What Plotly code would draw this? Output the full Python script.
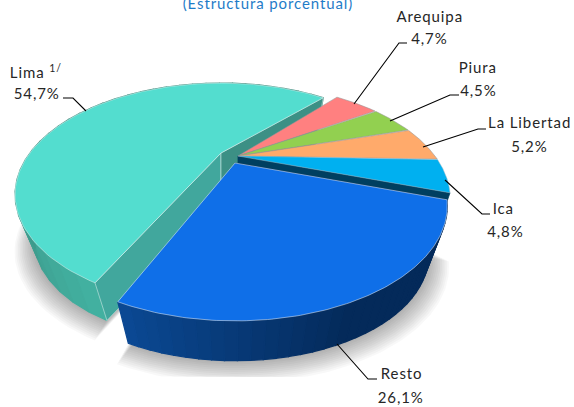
import math
import plotly.graph_objects as go

# ---- data ----
categories = ["Lima", "Arequipa", "Piura", "La Libertad", "Ica", "Resto"]
values = [54.7, 4.7, 4.5, 5.2, 4.8, 26.1]
label_names = ["Lima <sup>1/</sup>", "Arequipa", "Piura", "La Libertad", "Ica", "Resto"]
title_text = "(Estructura porcentual)"

# ---- style / layout ----
W, H = 574, 407
top_colors = ["#53DDCF", "#FF8080", "#92D050", "#FFAA6B", "#00B0F0", "#0F6FE8"]
wall_left = {"Lima": (66, 176, 160), "Resto": (11, 74, 150)}
wall_right = {"Lima": (58, 138, 124), "Resto": (4, 42, 90)}
centers = {"Lima": (221, 153), "Arequipa": (238, 156), "Piura": (238, 156),
           "La Libertad": (238, 156), "Ica": (238, 156), "Resto": (235, 163)}
piece_scale = {"Lima": 0.97}      # the exploded piece sits further back
piece_turn = {"Lima": 3.0}
piece_drop = {"Lima": 50.0, "Resto": 54.0}
piece_shrink = {"Lima": 0.905, "Resto": 0.91}
A, C, K = 197.0, 99.0, 0.373      # perspective of the disc
DROP, SHRINK = 52.0, 0.92         # thickness of the disc
RESTO_END = 203.0                 # clockwise-from-top angle where Resto ends
label_pos = {
    "Lima": ((11, 71, "left"), (37, 93, "center")),
    "Arequipa": ((429, 16, "center"), (429, 38, "center")),
    "Piura": ((478, 67, "center"), (478, 90, "center")),
    "La Libertad": ((529, 122, "center"), (529, 146, "center")),
    "Ica": ((503, 208, "center"), (505, 231, "center")),
    "Resto": ((401, 373, "center"), (401, 397, "center")),
}
leaders = {
    "Lima": [(63, 98), (73, 98), (86, 111)],
    "Arequipa": [(407, 43), (399, 43), (354, 104)],
    "Piura": [(459, 95), (450, 95), (390, 121)],
    "La Libertad": [(486, 129), (478, 129), (423, 147)],
    "Ica": [(445, 180), (482, 214), (490, 214)],
    "Resto": [(337, 344), (368, 379), (377, 379)],
}
FONT = "Lato"
TXT = "#262626"


def top_pt(name, deg):
    th = math.radians(deg)
    X, Y = math.sin(th), math.cos(th)
    d = 1 + K * Y
    cx, cy = centers[name]
    s = piece_scale.get(name, 1.0)
    return cx + s * A * X / d, cy - s * C * Y / d


def bot_pt(name, deg, grow=1.0):
    x, y = top_pt(name, deg)
    cx, cy = centers[name]
    s = piece_shrink.get(name, SHRINK) * grow
    return cx + (x - cx) * s, cy + piece_drop.get(name, DROP) + (y - cy) * s


def rng(a, b, n):
    return [a + (b - a) * i / n for i in range(n + 1)]


# slice angles derived from the values, clockwise; Lima starts where Resto ends
spans = {}
start = RESTO_END
for name, v in zip(categories, values):
    t = piece_turn.get(name, 0.0)
    spans[name] = (start + t, start + t + v * 3.6)
    start += v * 3.6

fig = go.Figure()


def poly(pts, fill, line=None, lw=1.0):
    xs = [p[0] for p in pts] + [pts[0][0]]
    ys = [p[1] for p in pts] + [pts[0][1]]
    fig.add_trace(go.Scatter(
        x=xs, y=ys, mode="lines", fill="toself", fillcolor=fill,
        line=dict(color=line or fill, width=lw if line else 0),
        hoverinfo="skip", showlegend=False))


# soft shadow under the two large pieces (clipped like the reference chart area)
for i in range(12, 0, -1):
    g = 1 + i * 0.009
    for name in ("Lima", "Resto"):
        a0, a1 = spans[name]
        cx, cy = centers[name]
        pts = [(cx, min(cy + DROP, 377))]
        for d in rng(a0, a1, 80):
            x, y = bot_pt(name, d, grow=g)
            pts.append((x, min(y + i * 0.6, 377)))
        poly(pts, "rgba(0,0,0,0.028)")


def rim(name, n=36):
    a0, a1 = spans[name]
    angs = rng(a0, a1, n)
    left, right = wall_left[name], wall_right[name]
    for j in range(n):
        if name == "Resto":
            # Resto runs right to left in the drawing: dark on the right half
            t = min(1.0, (n - j) / n * 2.0)
        else:
            t = min(1.0, j / n * 3.0)
        col = tuple(round(left[k] + (right[k] - left[k]) * t) for k in range(3))
        c = "rgb(%d,%d,%d)" % col
        d0, d1 = angs[j], angs[j + 1]
        poly([top_pt(name, d0), top_pt(name, d1), bot_pt(name, d1), bot_pt(name, d0)], c, c, 1.3)


def radial(name, deg, color, edge="rgba(255,255,255,0.55)"):
    cx, cy = centers[name]
    poly([(cx, cy), top_pt(name, deg), bot_pt(name, deg),
          (cx, cy + piece_drop.get(name, DROP))], color, edge, 0.8)


def top(name, edge):
    a0, a1 = spans[name]
    pts = [centers[name]] + [top_pt(name, d) for d in rng(a0, a1, 120)]
    poly(pts, top_colors[categories.index(name)], edge, 0.8)


# Lima (exploded, back-most)
rim("Lima")
radial("Lima", spans["Lima"][0], "#41A79D")
radial("Lima", spans["Lima"][1], "#3C9085")
top("Lima", "rgba(255,255,255,0.55)")

# small slices
for name in ["Arequipa", "Piura", "La Libertad"]:
    top(name, "rgba(150,150,150,0.7)")
radial("Ica", spans["Ica"][1], "#003F60", "#003F60")
top("Ica", "rgba(170,190,200,0.6)")

# Resto (front)
radial("Resto", spans["Resto"][0], "#0A2F60", "#0A2F60")
rim("Resto")
top("Resto", "rgba(255,255,255,0.6)")

# leader lines
for name, pts in leaders.items():
    fig.add_trace(go.Scatter(
        x=[p[0] for p in pts], y=[p[1] for p in pts], mode="lines",
        line=dict(color="#000000", width=1.1), hoverinfo="skip", showlegend=False))

# labels
anns = [dict(x=268, y=3, text=title_text, showarrow=False, xanchor="center", yanchor="middle",
             font=dict(family=FONT, size=15, color="#1F7CC8"))]
for name, lab, v in zip(categories, label_names, values):
    (x1, y1, al1), (x2, y2, al2) = label_pos[name]
    anns.append(dict(x=x1, y=y1, text=lab, showarrow=False, xanchor=al1, yanchor="middle",
                     font=dict(family=FONT, size=15, color=TXT)))
    anns.append(dict(x=x2, y=y2, text=f"{v:.1f}".replace(".", ",") + "%", showarrow=False,
                     xanchor=al2, yanchor="middle", font=dict(family=FONT, size=15, color=TXT)))

fig.update_layout(
    width=W, height=H, margin=dict(l=0, r=0, t=0, b=0),
    paper_bgcolor="white", plot_bgcolor="white", showlegend=False,
    xaxis=dict(range=[0, W], visible=False, fixedrange=True),
    yaxis=dict(range=[H, 0], visible=False, fixedrange=True),
    annotations=anns)

fig.write_html("out.html", config={"displayModeBar": False},
               post_script="document.body.style.margin='0';document.body.style.overflow='hidden';"
                           "document.querySelectorAll('.annotation-text').forEach(function(e){"
                           "e.style.letterSpacing='0.9px';});")
